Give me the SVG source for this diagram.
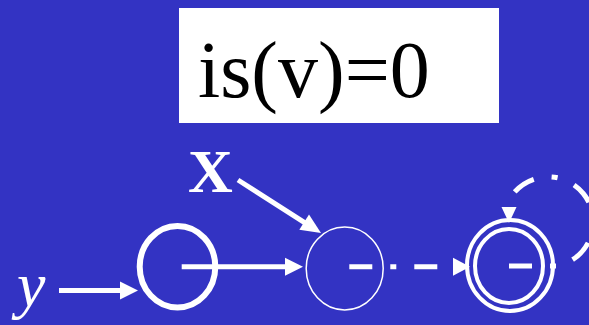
<svg xmlns="http://www.w3.org/2000/svg" width="589" height="325" viewBox="0 0 589 325">
<style>
.bg{fill:#3333c3}
.lbl{font-family:"Liberation Serif","Times New Roman",serif;fill:#fff}
.edge{stroke:#fff;fill:none;stroke-width:5}
.head{fill:#fff}
.dash{stroke-dasharray:23 18 6 18}
.node{fill:none;stroke:#fff}
</style>
<rect class="bg" x="0" y="0" width="589" height="325"/>
<g id="title">
<rect x="179" y="8" width="320" height="115" fill="#fff"/>
<text x="198" y="97" font-family="Liberation Serif, Times New Roman, serif" font-size="80" fill="#000">is(v)=0</text>
</g>
<g id="label-x"><text class="lbl" x="188" y="192" font-size="62" font-weight="bold">X</text></g>
<g id="label-y"><text class="lbl" x="17" y="306" font-size="64" font-style="italic">y</text></g>
<g id="node1"><ellipse class="node" cx="177.5" cy="266.7" rx="37.8" ry="40.8" stroke-width="6"/></g>
<g id="node2"><ellipse class="node" cx="344.7" cy="268.5" rx="38.5" ry="41.5" stroke-width="1.5"/></g>
<g id="node3">
<ellipse class="node" cx="510" cy="265.5" rx="43" ry="45.5" stroke-width="4"/>
<ellipse class="node" cx="509" cy="266" rx="34" ry="37" stroke-width="4"/>
</g>
<g id="connectors">
<line class="edge" x1="59" y1="290.5" x2="121" y2="290.5"/>
<polygon class="head" points="138,290.5 120,281.5 120,299.5"/>
<line class="edge" x1="181.7" y1="266.7" x2="286" y2="266.7"/>
<polygon class="head" points="303,266.7 285,257.7 285,275.7"/>
<line class="edge" x1="238" y1="180" x2="305" y2="222.8" stroke-width="5.5"/>
<polygon class="head" points="321,233 299.3,229.8 309,214.6"/>
<line class="edge dash" x1="349.3" y1="266.7" x2="454" y2="266.7"/>
<polygon class="head" points="470,266.7 453,257.7 453,275.7"/>
<path class="edge dash" d="M509,266 L557,266 A45,45 0 1,0 507,204"/>
<polygon class="head" points="509,223 501.5,207 516.5,207"/>
</g>
</svg>
